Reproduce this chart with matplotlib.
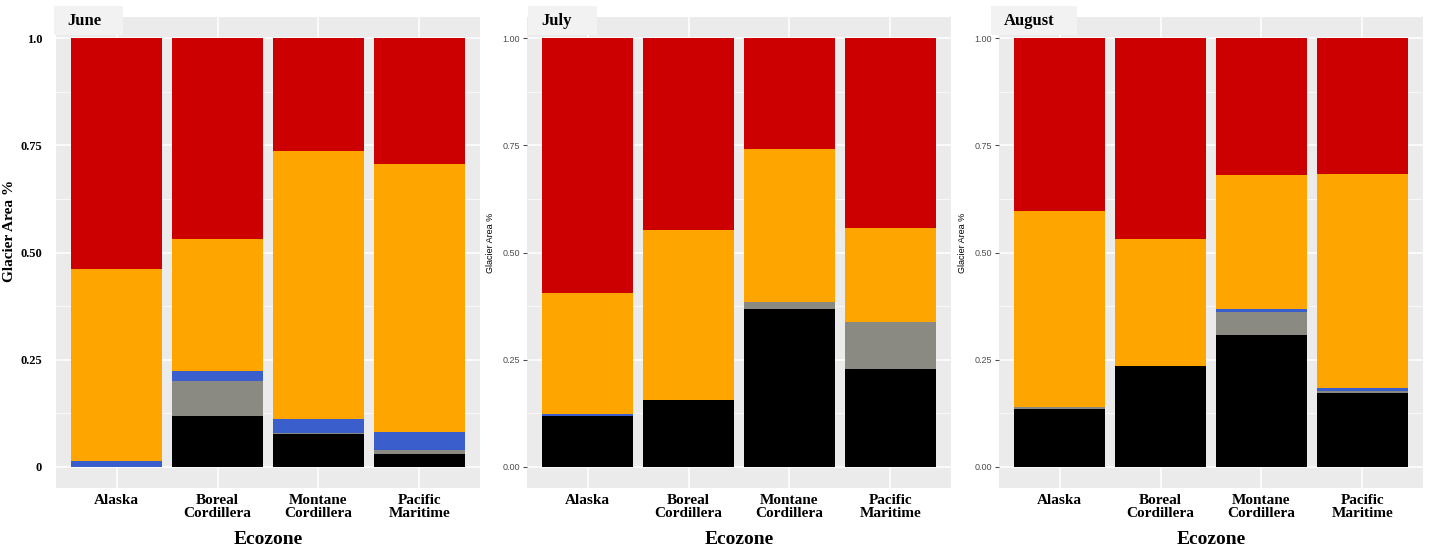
import matplotlib
matplotlib.use("Agg")
import matplotlib.pyplot as plt
from matplotlib.patches import Rectangle
import numpy as np

ecozones = ["Alaska", "Boreal\nCordillera", "Montane\nCordillera", "Pacific\nMaritime"]
months = ["June", "July", "August"]

# stacked shares, bottom to top (black, gray, blue, orange, red = remainder)
black_share = {
    "June":   [0.000, 0.117, 0.077, 0.030],
    "July":   [0.119, 0.155, 0.369, 0.228],
    "August": [0.134, 0.235, 0.308, 0.173],
}
gray_share = {
    "June":   [0.000, 0.083, 0.002, 0.008],
    "July":   [0.000, 0.000, 0.016, 0.109],
    "August": [0.006, 0.000, 0.053, 0.004],
}
blue_share = {
    "June":   [0.012, 0.024, 0.032, 0.042],
    "July":   [0.003, 0.000, 0.000, 0.000],
    "August": [0.000, 0.000, 0.006, 0.006],
}
orange_share = {
    "June":   [0.450, 0.307, 0.626, 0.627],
    "July":   [0.283, 0.397, 0.356, 0.221],
    "August": [0.457, 0.297, 0.313, 0.501],
}
red_share = {
    "June":   [0.538, 0.469, 0.263, 0.293],
    "July":   [0.595, 0.448, 0.259, 0.442],
    "August": [0.403, 0.468, 0.320, 0.316],
}

layers = [
    (black_share, "#000000"),
    (gray_share, "#8A8A82"),
    (blue_share, "#3A5FCD"),
    (orange_share, "#FFA500"),
    (red_share, "#CC0000"),
]

serif = "Liberation Serif"
sans = "Liberation Sans"

fig = plt.figure(figsize=(14.3, 5.55), dpi=100)
W, H = 1430, 555
lefts = [56, 527, 999]
panel_w = 424
top_px, bot_px = 17, 488
# facet strip boxes (left, right) in pixels
strips = [(54, 123), (528, 597), (991, 1077)]

for i, month in enumerate(months):
    ax = fig.add_axes([lefts[i] / W, 1 - bot_px / H, panel_w / W, (bot_px - top_px) / H])
    ax.set_facecolor("#EBEBEB")
    x = np.arange(len(ecozones))
    bottom = np.zeros(len(ecozones))
    for data, color in layers:
        vals = np.array(data[month])
        ax.bar(x, vals, bottom=bottom, width=0.9, color=color, linewidth=0, zorder=3)
        bottom += vals

    ax.set_xlim(-0.6, len(ecozones) - 0.4)
    ax.set_ylim(-0.05, 1.05)
    ax.set_yticks([0, 0.25, 0.5, 0.75, 1.0])
    ax.set_yticks([0.125, 0.375, 0.625, 0.875], minor=True)
    ax.set_xticks(x)
    ax.grid(which="major", color="white", linewidth=1.1, zorder=0)
    ax.grid(which="minor", axis="y", color="white", linewidth=0.5, zorder=0)
    ax.set_axisbelow(True)
    for s in ax.spines.values():
        s.set_visible(False)

    ax.set_xticklabels(ecozones, fontfamily=serif, fontweight="bold", fontsize=11,
                       linespacing=1.05)
    ax.tick_params(axis="x", length=0, pad=4)
    ax.tick_params(axis="y", which="minor", length=0)

    if i == 0:
        ax.set_yticklabels(["0", "0.25", "0.50", "0.75", "1.0"], fontfamily=serif,
                           fontweight="bold", fontsize=9)
        ax.tick_params(axis="y", length=0, pad=10)
        ax.set_ylabel("Glacier Area %", fontfamily=serif, fontweight="bold", fontsize=11)
        ax.yaxis.set_label_coords((16 - lefts[i]) / panel_w, (bot_px - 231) / (bot_px - top_px))
    else:
        ax.set_yticklabels(["0.00", "0.25", "0.50", "0.75", "1.00"], fontfamily=sans,
                           fontsize=6.5, color="#4D4D4D")
        ax.tick_params(axis="y", length=3, width=0.8, color="#4D4D4D", pad=2)
        ax.set_ylabel("Glacier Area %", fontfamily=sans, fontsize=6.5)
        ax.yaxis.set_label_coords(-32 / panel_w, (bot_px - 243) / (bot_px - top_px))

    ax.set_xlabel("Ecozone", fontfamily=serif, fontweight="bold", fontsize=14, labelpad=8)

    # facet strip label box
    sl, sr = strips[i]
    fig.patches.append(Rectangle((sl / W, 1 - 35 / H), (sr - sl) / W, 29 / H,
                                 transform=fig.transFigure, facecolor="#F2F2F2",
                                 edgecolor="none", zorder=5))
    fig.text((sl + 13) / W, 1 - 21 / H, month, fontfamily=serif, fontweight="bold",
             fontsize=12, ha="left", va="center", zorder=6)

fig.savefig("out.png", dpi=100, facecolor="white")
